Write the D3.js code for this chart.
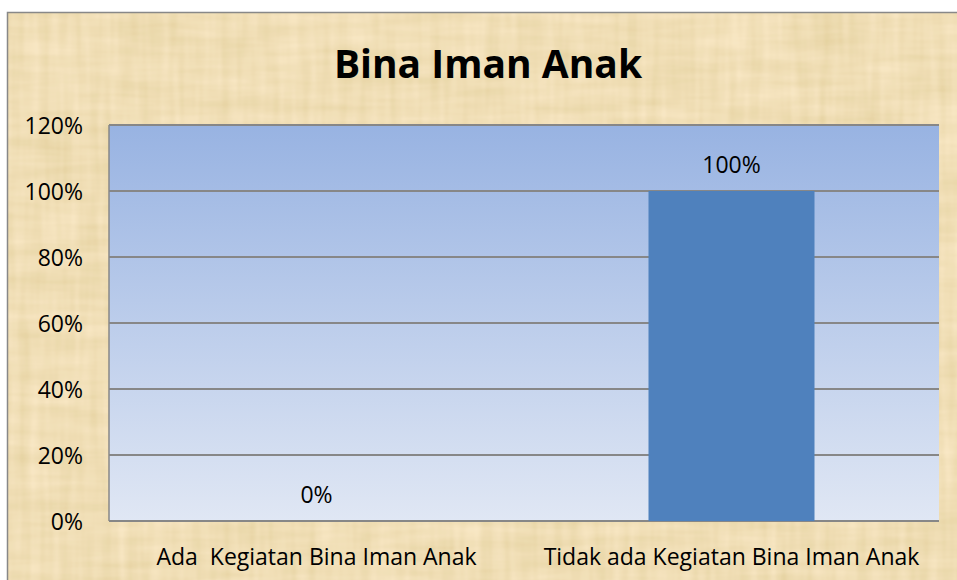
<!DOCTYPE html>
<html>
<head>
<meta charset="utf-8">
<script src="https://cdn.jsdelivr.net/npm/d3@7"></script>
<style>
  html, body { margin: 0; padding: 0; background: #fff; }
  svg { display: block; }
  text { font-family: "Open Sans", "Liberation Sans", sans-serif; fill: #000; white-space: pre; }
</style>
</head>
<body>
<div id="chart"></div>
<script>
// Chart data
const categories = ["Ada  Kegiatan Bina Iman Anak", "Tidak ada Kegiatan Bina Iman Anak"];
const values = [0, 1];
const tickValues = [0, 0.2, 0.4, 0.6, 0.8, 1.0, 1.2];
const title = "Bina Iman Anak";

const width = 957;
const height = 580;

const svg = d3.select("#chart")
    .append("svg")
    .attr("width", width)
    .attr("height", height);

const defs = svg.append("defs");

// papyrus-like texture
const tex = defs.append("filter")
    .attr("id", "papyrus")
    .attr("x", 0).attr("y", 0).attr("width", 1).attr("height", 1);
tex.append("feTurbulence")
    .attr("type", "fractalNoise")
    .attr("baseFrequency", "0.01 0.08")
    .attr("numOctaves", 3)
    .attr("seed", 4)
    .attr("result", "n1");
tex.append("feTurbulence")
    .attr("type", "fractalNoise")
    .attr("baseFrequency", "0.1 0.01")
    .attr("numOctaves", 2)
    .attr("seed", 9)
    .attr("result", "n2");
tex.append("feComposite")
    .attr("in", "n1").attr("in2", "n2")
    .attr("operator", "arithmetic")
    .attr("k1", 0).attr("k2", 0.5).attr("k3", 0.5).attr("k4", 0)
    .attr("result", "n");
tex.append("feColorMatrix")
    .attr("in", "n")
    .attr("type", "matrix")
    .attr("values", [
        "0 0 0 0.3 0.74",
        "0 0 0 0.3 0.61",
        "0 0 0 0.4 0.31",
        "0 0 0 0 1"
    ].join(" "));

const plotGrad = defs.append("linearGradient")
    .attr("id", "plotGrad")
    .attr("x1", 0).attr("y1", 0).attr("x2", 0).attr("y2", 1);
plotGrad.append("stop").attr("offset", "0%").attr("stop-color", "#98b3e2");
plotGrad.append("stop").attr("offset", "100%").attr("stop-color", "#e0e7f4");

// outer frame with texture
svg.append("rect")
    .attr("x", 7.5).attr("y", 12.5)
    .attr("width", width).attr("height", height)
    .attr("fill", "#e6ca8a");
svg.append("rect")
    .attr("x", 7.5).attr("y", 12.5)
    .attr("width", width).attr("height", height)
    .attr("filter", "url(#papyrus)")
    .attr("opacity", 0.85);
svg.append("rect")
    .attr("x", 7.5).attr("y", 12.5)
    .attr("width", width).attr("height", height)
    .attr("fill", "none")
    .attr("stroke", "#888")
    .attr("stroke-width", 1.5);

// plot area
const plot = { left: 109, top: 125, right: 939, bottom: 521 };

const x = d3.scaleBand()
    .domain(categories)
    .range([plot.left, plot.right])
    .paddingInner(0.6)
    .paddingOuter(0.3);

const y = d3.scaleLinear()
    .domain([0, 1.2])
    .range([plot.bottom, plot.top]);

svg.append("rect")
    .attr("x", plot.left).attr("y", plot.top)
    .attr("width", plot.right - plot.left)
    .attr("height", plot.bottom - plot.top)
    .attr("fill", "url(#plotGrad)");

// gridlines
svg.append("g")
    .selectAll("line")
    .data(tickValues)
    .join("line")
    .attr("x1", plot.left).attr("x2", plot.right)
    .attr("y1", d => y(d)).attr("y2", d => y(d))
    .attr("stroke", "#878787")
    .attr("stroke-width", 2);

// left axis line
svg.append("line")
    .attr("x1", plot.left).attr("x2", plot.left)
    .attr("y1", plot.top).attr("y2", plot.bottom)
    .attr("stroke", "#878787")
    .attr("stroke-width", 1.5);

// bars
svg.append("g")
    .selectAll("rect")
    .data(values)
    .join("rect")
    .attr("x", (d, i) => x(categories[i]))
    .attr("y", d => y(d))
    .attr("width", x.bandwidth())
    .attr("height", d => y(0) - y(d))
    .attr("fill", "#4f81bd");

// data labels
svg.append("g")
    .selectAll("text")
    .data(values)
    .join("text")
    .attr("x", (d, i) => x(categories[i]) + x.bandwidth() / 2)
    .attr("y", d => y(d) - 18)
    .attr("text-anchor", "middle")
    .style("font-size", "23px")
    .text(d => d3.format(".0%")(d));

// y axis
const yAxis = svg.append("g")
    .attr("transform", `translate(${plot.left},0)`)
    .call(d3.axisLeft(y).tickValues(tickValues).tickSize(0).tickPadding(26).tickFormat(d3.format(".0%")));
yAxis.select(".domain").remove();
yAxis.selectAll("text")
    .style("font-size", "23px")
    .attr("dy", "0.35em");

// x axis
const xAxis = svg.append("g")
    .attr("transform", `translate(0,${plot.bottom})`)
    .call(d3.axisBottom(x).tickSize(0));
xAxis.select(".domain").remove();
xAxis.selectAll("text")
    .style("font-size", "23px")
    .attr("y", 44)
    .attr("dy", 0)
    .attr("text-anchor", "middle")
    .attr("x", 0);

// title
svg.append("text")
    .attr("x", 488)
    .attr("y", 78)
    .attr("text-anchor", "middle")
    .style("font-size", "39px")
    .style("font-weight", "bold")
    .text(title);
</script>
</body>
</html>
